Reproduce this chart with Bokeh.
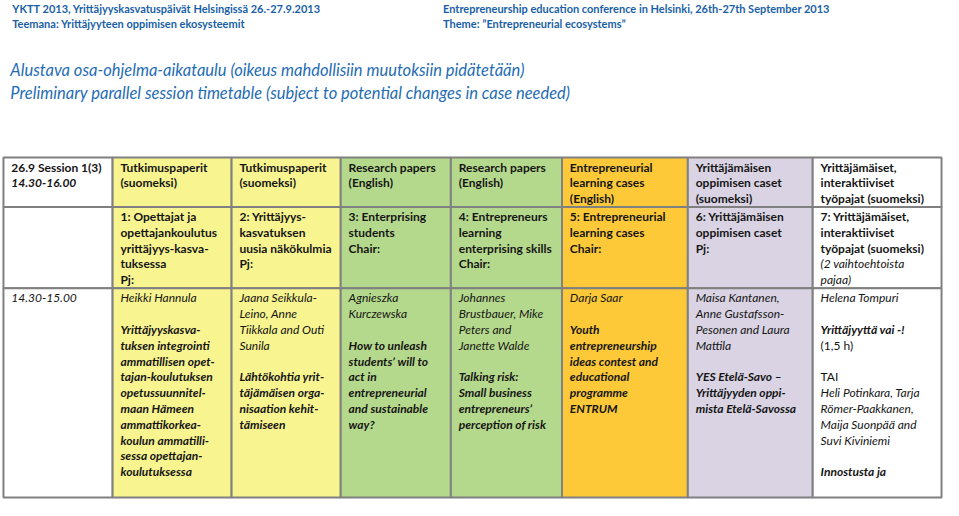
from bokeh.plotting import figure
from bokeh.models import Range1d, ColumnDataSource
from bokeh.core.properties import value
from bokeh.embed import file_html
from bokeh.resources import INLINE

# ---------------- content ----------------
title_fi = ["YKTT 2013, Yrittäjyyskasvatuspäivät Helsingissä 26.-27.9.2013",
            "Teemana: Yrittäjyyteen oppimisen ekosysteemit"]
title_en = ["Entrepreneurship education conference in Helsinki, 26th-27th September 2013",
            "Theme: \u201dEntrepreneurial ecosystems\u201d"]
subtitle = ["Alustava osa-ohjelma-aikataulu (oikeus mahdollisiin muutoksiin pidätetään)",
            "Preliminary parallel session timetable (subject to potential changes in case needed)"]

# style codes: n normal, b bold, i italic, bi bold italic
row1 = [
    [("26.9 Session 1(3)", "b"), ("14.30-16.00", "bi")],
    [("Tutkimuspaperit", "b"), ("(suomeksi)", "b")],
    [("Tutkimuspaperit", "b"), ("(suomeksi)", "b")],
    [("Research papers", "b"), ("(English)", "b")],
    [("Research papers", "b"), ("(English)", "b")],
    [("Entrepreneurial", "b"), ("learning cases", "b"), ("(English)", "b")],
    [("Yrittäjämäisen", "b"), ("oppimisen caset", "b"), ("(suomeksi)", "b")],
    [("Yrittäjämäiset,", "b"), ("interaktiiviset", "b"), ("työpajat (suomeksi)", "b")],
]
row2 = [
    [],
    [("1: Opettajat ja", "b"), ("opettajankoulutus", "b"), ("yrittäjyys-kasva-", "b"), ("tuksessa", "b"), ("Pj:", "b")],
    [("2: Yrittäjyys-", "b"), ("kasvatuksen", "b"), ("uusia näkökulmia", "b"), ("Pj:", "b")],
    [("3: Enterprising", "b"), ("students", "b"), ("Chair:", "b")],
    [("4: Entrepreneurs", "b"), ("learning", "b"), ("enterprising skills", "b"), ("Chair:", "b")],
    [("5: Entrepreneurial", "b"), ("learning cases", "b"), ("Chair:", "b")],
    [("6: Yrittäjämäisen", "b"), ("oppimisen caset", "b"), ("Pj:", "b")],
    [("7: Yrittäjämäiset,", "b"), ("interaktiiviset", "b"), ("työpajat (suomeksi)", "b"),
     ("(2 vaihtoehtoista", "i"), ("pajaa)", "i")],
]
row3 = [
    [("14.30-15.00", "i")],
    [("Heikki Hannula", "i"), ("", "n"), ("Yrittäjyyskasva-", "bi"), ("tuksen integrointi", "bi"),
     ("ammatillisen opet-", "bi"), ("tajan-koulutuksen", "bi"), ("opetussuunnitel-", "bi"),
     ("maan Hämeen", "bi"), ("ammattikorkea-", "bi"), ("koulun ammatilli-", "bi"),
     ("sessa opettajan-", "bi"), ("koulutuksessa", "bi")],
    [("Jaana Seikkula-", "i"), ("Leino, Anne", "i"), ("Tiikkala and Outi", "i"), ("Sunila", "i"),
     ("", "n"), ("Lähtökohtia yrit-", "bi"), ("täjämäisen orga-", "bi"), ("nisaation kehit-", "bi"),
     ("tämiseen", "bi")],
    [("Agnieszka", "i"), ("Kurczewska", "i"), ("", "n"), ("How to unleash", "bi"),
     ("students\u2019 will to", "bi"), ("act in", "bi"), ("entrepreneurial", "bi"),
     ("and sustainable", "bi"), ("way?", "bi")],
    [("Johannes", "i"), ("Brustbauer, Mike", "i"), ("Peters and", "i"), ("Janette Walde", "i"),
     ("", "n"), ("Talking risk:", "bi"), ("Small business", "bi"), ("entrepreneurs\u2019", "bi"),
     ("perception of risk", "bi")],
    [("Darja Saar", "i"), ("", "n"), ("Youth", "bi"), ("entrepreneurship", "bi"),
     ("ideas contest and", "bi"), ("educational", "bi"), ("programme", "bi"), ("ENTRUM", "bi")],
    [("Maisa Kantanen,", "i"), ("Anne Gustafsson-", "i"), ("Pesonen and Laura", "i"), ("Mattila", "i"),
     ("", "n"), ("YES Etelä-Savo \u2013", "bi"), ("Yrittäjyyden oppi-", "bi"), ("mista Etelä-Savossa", "bi")],
    [("Helena Tompuri", "i"), ("", "n"), ("Yrittäjyyttä vai -!", "bi"), (" (1,5 h)", "n"), ("", "n"),
     ("TAI", "n"), ("Heli Potinkara, Tarja", "i"), ("Römer-Paakkanen,", "i"),
     ("Maija Suonpää and", "i"), ("Suvi Kiviniemi", "i"), ("", "n"), ("Innostusta ja", "bi")],
]
col_colors = ["#ffffff", "#f8f490", "#f8f490", "#b5d98c", "#b5d98c", "#fdc938", "#d9d3e3", "#ffffff"]

# ---------------- layout ----------------
col_edges = [3, 114, 235, 346, 458, 571, 699, 826, 957]
row_edges = [162, 213, 297, 513]
LINE_H = 16.3
PAD_X = 8
FONT = "Lato"

p = figure(width=943, height=500, output_backend="svg", toolbar_location=None,
           x_range=Range1d(0, 959), y_range=Range1d(516, 0),
           min_border=0, outline_line_color=None, background_fill_color="white")
p.axis.visible = False
p.xgrid.visible = False
p.ygrid.visible = False

# cells
ql, qr, qt, qb, qc = [], [], [], [], []
for r in range(3):
    for c in range(8):
        ql.append(col_edges[c]); qr.append(col_edges[c + 1])
        qt.append(row_edges[r]); qb.append(row_edges[r + 1])
        qc.append(col_colors[c])
p.quad(left=ql, right=qr, top=qt, bottom=qb, fill_color=qc,
       line_color="#808080", line_width=2)

# cell texts
styles = {"n": "normal", "b": "bold", "i": "italic", "bi": "bold italic"}
tx, ty, tt, ts = [], [], [], []
for r, rows in enumerate([row1, row2, row3]):
    for c, lines in enumerate(rows):
        for k, (txt, st) in enumerate(lines):
            if not txt:
                continue
            tx.append(col_edges[c] + PAD_X)
            ty.append(row_edges[r] + 10 + k * LINE_H)
            tt.append(txt)
            ts.append(styles[st])
src = ColumnDataSource(dict(x=tx, y=ty, text=tt, style=ts))
p.text(x="x", y="y", text="text", source=src, text_font=value(FONT),
       text_font_size="12px", text_font_style="style", text_color="#151515",
       text_baseline="middle", text_align="left")

# headers
p.text(x=[12, 12], y=[8, 24], text=title_fi, text_font=value(FONT), text_font_size="11px",
       text_font_style="bold", text_color="#1a5fa6", text_baseline="middle")
p.text(x=[450, 450], y=[8, 24], text=title_en, text_font=value(FONT), text_font_size="11px",
       text_font_style="bold", text_color="#1a5fa6", text_baseline="middle")
p.text(x=[10, 10], y=[72, 95], text=subtitle, text_font=value(FONT), text_font_size="16.5px",
       text_font_style="italic", text_color="#1f6db5", text_baseline="middle")

open("out.html", "w").write(file_html(p, INLINE))
